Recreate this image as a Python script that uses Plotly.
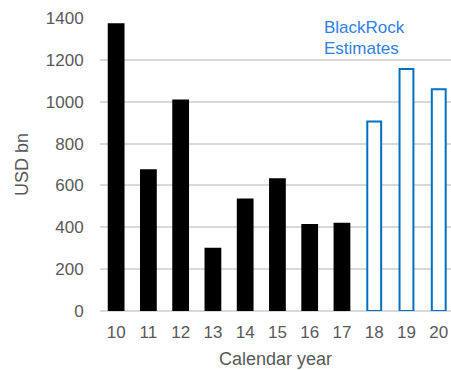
import plotly.graph_objects as go

years = ["10", "11", "12", "13", "14", "15", "16", "17", "18", "19", "20"]
actual_years = ["10", "11", "12", "13", "14", "15", "16", "17"]
actual_values = [1375, 677, 1011, 302, 537, 634, 416, 422]
est_years = ["18", "19", "20"]
est_values = [906, 1156, 1059]
y_ticks = [0, 200, 400, 600, 800, 1000, 1200, 1400]
note_lines = ["BlackRock", "Estimates"]

FONT = "Liberation Sans, Arial, sans-serif"
GRAY = "#595959"

fig = go.Figure()
fig.add_trace(go.Bar(x=actual_years, y=actual_values, width=0.52,
                     marker=dict(color="#000000", line=dict(width=0)),
                     showlegend=False))
fig.add_trace(go.Bar(x=est_years, y=est_values, width=0.43,
                     marker=dict(color="#ffffff", line=dict(color="#0070C0", width=2)),
                     showlegend=False))

for i, line in enumerate(note_lines):
    fig.add_annotation(x=0.632, y=0.969 - i * 0.072, xref="paper", yref="paper", text=line,
                       showarrow=False, xanchor="left", yanchor="middle",
                       font=dict(family=FONT, size=17, color="#2F7FE8"))

fig.update_layout(
    width=451, height=370,
    margin=dict(l=100, r=0, t=18, b=59),
    paper_bgcolor="white", plot_bgcolor="white",
    font=dict(family=FONT, size=17, color=GRAY),
    xaxis=dict(type="category", categoryorder="array", categoryarray=years,
               range=[-0.5, 10.38], showgrid=False, showline=False,
               ticks="outside", ticklen=6, tickcolor="rgba(0,0,0,0)",
               title=dict(text="Calendar year", font=dict(size=18, color=GRAY), standoff=10)),
    yaxis=dict(range=[0, 1400], tickvals=y_ticks, showgrid=True, gridcolor="#D9D9D9",
               gridwidth=1.5, zeroline=True, zerolinecolor="#D9D9D9", zerolinewidth=1.5,
               showline=False, ticks="outside", ticklen=12, tickcolor="rgba(0,0,0,0)",
               title=dict(text="USD bn", font=dict(size=18, color=GRAY), standoff=12)),
)

fig.write_html("out.html")
